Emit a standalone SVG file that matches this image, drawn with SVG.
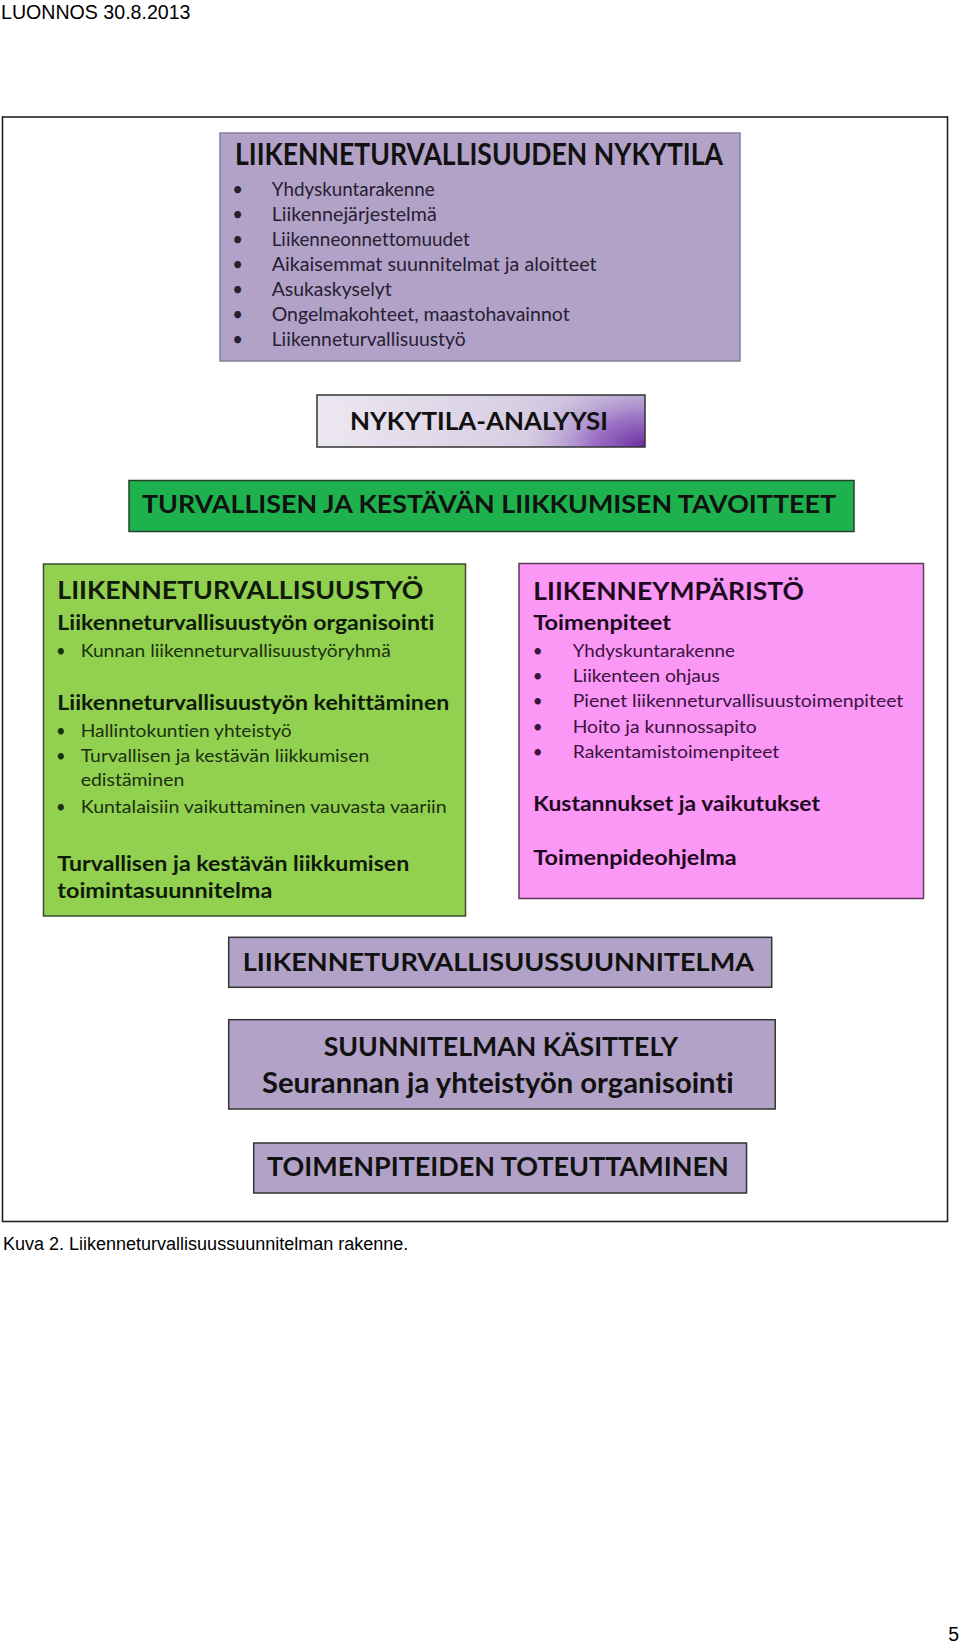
<svg xmlns="http://www.w3.org/2000/svg" width="960" height="1643" viewBox="0 0 960 1643">
<style>
.pg{font-family:"Liberation Sans",Arial,sans-serif;fill:#000}
.c{font-family:Lato,"Open Sans",sans-serif;font-variant-ligatures:none;font-feature-settings:"liga" 0,"clig" 0}
.b{font-weight:bold}
.box{stroke-width:1.5}
.t{fill:#111}
</style>
<defs>
<linearGradient id="anaBase" x1="0" y1="0" x2="1" y2="0">
<stop offset="0" stop-color="#ece8f1"/>
<stop offset="0.6" stop-color="#d8cfe4"/>
<stop offset="1" stop-color="#c2b3d8"/>
</linearGradient>
<radialGradient id="anaGlow" gradientUnits="userSpaceOnUse" cx="645" cy="447" r="120" gradientTransform="translate(645 447) scale(1 0.55) translate(-645 -447)">
<stop offset="0" stop-color="#6a2a9e" stop-opacity="1"/>
<stop offset="0.45" stop-color="#8a55bb" stop-opacity="0.7"/>
<stop offset="1" stop-color="#b9a6d3" stop-opacity="0"/>
</radialGradient>
</defs>
<rect width="960" height="1643" fill="#fff"/>
<text class="pg" x="1" y="19" font-size="19.6">LUONNOS 30.8.2013</text>
<rect id="frame" x="2.5" y="117" width="945" height="1104.5" fill="#fff" stroke="#222" stroke-width="1.6"/>

<g id="nykytila">
<rect class="box" x="220" y="133" width="520" height="228" fill="#b3a2c7" stroke="#85809a"/>
<text class="c b t" x="235" y="165" font-size="30" textLength="488" lengthAdjust="spacingAndGlyphs">LIIKENNETURVALLISUUDEN NYKYTILA</text>
<g class="c" font-size="18.5" fill="#262033">
<text x="237.5" y="196" text-anchor="middle">•</text>
<text x="271.7" y="196" textLength="163" lengthAdjust="spacingAndGlyphs">Yhdyskuntarakenne</text>
<text x="237.5" y="221" text-anchor="middle">•</text>
<text x="271.7" y="221" textLength="165" lengthAdjust="spacingAndGlyphs">Liikennejärjestelmä</text>
<text x="237.5" y="246" text-anchor="middle">•</text>
<text x="271.7" y="246" textLength="198" lengthAdjust="spacingAndGlyphs">Liikenneonnettomuudet</text>
<text x="237.5" y="271" text-anchor="middle">•</text>
<text x="271.7" y="271" textLength="325" lengthAdjust="spacingAndGlyphs">Aikaisemmat suunnitelmat ja aloitteet</text>
<text x="237.5" y="296" text-anchor="middle">•</text>
<text x="271.7" y="296" textLength="120" lengthAdjust="spacingAndGlyphs">Asukaskyselyt</text>
<text x="237.5" y="321" text-anchor="middle">•</text>
<text x="271.7" y="321" textLength="298" lengthAdjust="spacingAndGlyphs">Ongelmakohteet, maastohavainnot</text>
<text x="237.5" y="346" text-anchor="middle">•</text>
<text x="271.7" y="346" textLength="194" lengthAdjust="spacingAndGlyphs">Liikenneturvallisuustyö</text>
</g>
</g>

<g id="analyysi">
<rect x="317" y="395" width="328" height="52" fill="url(#anaBase)"/>
<rect x="317" y="395" width="328" height="52" fill="url(#anaGlow)" stroke="#333" stroke-width="1.5"/>
<text class="c b t" x="350" y="430" font-size="25.5" textLength="258" lengthAdjust="spacingAndGlyphs">NYKYTILA-ANALYYSI</text>
</g>

<g id="tavoitteet">
<rect class="box" x="129" y="480.5" width="725" height="51" fill="#1db24e" stroke="#24402a"/>
<text class="c b t" x="142" y="513" font-size="25" textLength="694" lengthAdjust="spacingAndGlyphs">TURVALLISEN JA KESTÄVÄN LIIKKUMISEN TAVOITTEET</text>
</g>

<g id="lttyo">
<rect class="box" x="43.5" y="564" width="422" height="352" fill="#92d050" stroke="#3e4a36"/>
<g class="c b" fill="#0f1a0a">
<text x="57.3" y="599.3" font-size="24.7" textLength="366" lengthAdjust="spacingAndGlyphs">LIIKENNETURVALLISUUSTYÖ</text>
<text x="57.3" y="630" font-size="20" textLength="377" lengthAdjust="spacingAndGlyphs">Liikenneturvallisuustyön organisointi</text>
<text x="57.3" y="710" font-size="20" textLength="392" lengthAdjust="spacingAndGlyphs">Liikenneturvallisuustyön kehittäminen</text>
<text x="57.3" y="871" font-size="20.5" textLength="352" lengthAdjust="spacingAndGlyphs">Turvallisen ja kestävän liikkumisen</text>
<text x="57.3" y="898.3" font-size="20.5" textLength="215" lengthAdjust="spacingAndGlyphs">toimintasuunnitelma</text>
</g>
<g class="c" font-size="16.5" fill="#1b3010">
<text x="60.7" y="656.7" text-anchor="middle">•</text>
<text x="80.7" y="656.7" textLength="310" lengthAdjust="spacingAndGlyphs">Kunnan liikenneturvallisuustyöryhmä</text>
<text x="60.7" y="736.7" text-anchor="middle">•</text>
<text x="80.7" y="736.7" textLength="211" lengthAdjust="spacingAndGlyphs">Hallintokuntien yhteistyö</text>
<text x="60.7" y="761.7" text-anchor="middle">•</text>
<text x="80.7" y="761.7" textLength="288.6" lengthAdjust="spacingAndGlyphs">Turvallisen ja kestävän liikkumisen</text>
<text x="80.7" y="786" textLength="103.6" lengthAdjust="spacingAndGlyphs">edistäminen</text>
<text x="60.7" y="812.7" text-anchor="middle">•</text>
<text x="80.7" y="812.7" textLength="366" lengthAdjust="spacingAndGlyphs">Kuntalaisiin vaikuttaminen vauvasta vaariin</text>
</g>
</g>

<g id="ymparisto">
<rect class="box" x="519" y="563.5" width="404.5" height="335" fill="#fb98f6" stroke="#5e3a5e"/>
<g class="c b" fill="#1e0a1e">
<text x="533.3" y="600" font-size="24.7" textLength="270.7" lengthAdjust="spacingAndGlyphs">LIIKENNEYMPÄRISTÖ</text>
<text x="533.3" y="630" font-size="20" textLength="137.7" lengthAdjust="spacingAndGlyphs">Toimenpiteet</text>
<text x="533.3" y="811" font-size="20" textLength="286.7" lengthAdjust="spacingAndGlyphs">Kustannukset ja vaikutukset</text>
<text x="533.3" y="865" font-size="20" textLength="203.4" lengthAdjust="spacingAndGlyphs">Toimenpideohjelma</text>
</g>
<g class="c" font-size="17" fill="#3a1240">
<text x="537.7" y="656.7" text-anchor="middle">•</text>
<text x="572.7" y="656.7" textLength="162.3" lengthAdjust="spacingAndGlyphs">Yhdyskuntarakenne</text>
<text x="537.7" y="681.7" text-anchor="middle">•</text>
<text x="572.7" y="681.7" textLength="147.3" lengthAdjust="spacingAndGlyphs">Liikenteen ohjaus</text>
<text x="537.7" y="707.3" text-anchor="middle">•</text>
<text x="572.7" y="707.3" textLength="330.6" lengthAdjust="spacingAndGlyphs">Pienet liikenneturvallisuustoimenpiteet</text>
<text x="537.7" y="732.7" text-anchor="middle">•</text>
<text x="572.7" y="732.7" textLength="184" lengthAdjust="spacingAndGlyphs">Hoito ja kunnossapito</text>
<text x="537.7" y="757.7" text-anchor="middle">•</text>
<text x="572.7" y="757.7" textLength="206.6" lengthAdjust="spacingAndGlyphs">Rakentamistoimenpiteet</text>
</g>
</g>

<g id="suunnitelma">
<rect class="box" x="228.7" y="937.3" width="543" height="50" fill="#b3a2c7" stroke="#333"/>
<text class="c b t" x="242.7" y="971" font-size="25.5" textLength="511.3" lengthAdjust="spacingAndGlyphs">LIIKENNETURVALLISUUSSUUNNITELMA</text>
</g>

<g id="kasittely">
<rect class="box" x="228.7" y="1019.7" width="546.5" height="89.3" fill="#b3a2c7" stroke="#333"/>
<text class="c b t" x="323.7" y="1055.7" font-size="27" textLength="354.3" lengthAdjust="spacingAndGlyphs">SUUNNITELMAN KÄSITTELY</text>
<text class="c b t" x="262" y="1093" font-size="28" textLength="471.7" lengthAdjust="spacingAndGlyphs">Seurannan ja yhteistyön organisointi</text>
</g>

<g id="toteuttaminen">
<rect class="box" x="253.7" y="1143" width="492.8" height="50" fill="#b3a2c7" stroke="#333"/>
<text class="c b t" x="267" y="1176.3" font-size="26.5" textLength="461.7" lengthAdjust="spacingAndGlyphs">TOIMENPITEIDEN TOTEUTTAMINEN</text>
</g>

<g id="connectors"></g>

<text class="pg" x="3" y="1250" font-size="18">Kuva 2. Liikenneturvallisuussuunnitelman rakenne.</text>
<text class="pg" x="959" y="1641" font-size="19.5" text-anchor="end">5</text>
</svg>
